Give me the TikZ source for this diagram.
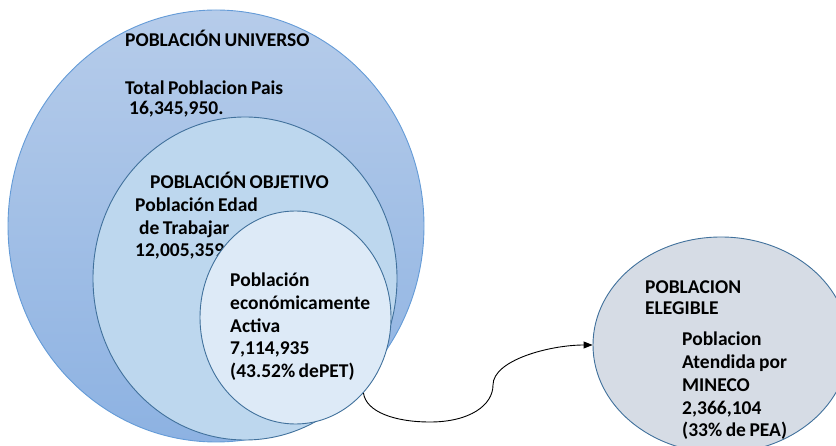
\documentclass[tikz,border=0pt]{standalone}
\usepackage{fontspec}
\setmainfont{Carlito}[BoldFont={Carlito Bold}]
\usetikzlibrary{shapes.geometric,arrows.meta}
\definecolor{outertop}{RGB}{182,204,234}
\definecolor{outerbot}{RGB}{141,178,226}
\definecolor{outerline}{RGB}{100,155,215}
\definecolor{midfill}{RGB}{189,215,238}
\definecolor{innerfill}{RGB}{221,234,247}
\definecolor{eligfill}{RGB}{214,220,229}
\definecolor{edgeline}{RGB}{65,113,156}
\newcommand\diagfont{\fontsize{19.5}{23}\selectfont\bfseries\spaceskip=0.18em\relax}
\begin{document}
\begin{tikzpicture}[x=1pt,y=-1pt,
  txt/.style={anchor=base west, inner sep=0pt, font=\diagfont},
  circ/.style={ellipse, inner sep=0pt, line width=0.9pt},
  conn/.style={line width=0.9pt, -{Triangle[length=9pt,width=7pt]}}]
\useasboundingbox (0,0) rectangle (836,446);
\clip (0,0) rectangle (836,446);
% outer
\node[circ, draw=outerline, top color=outertop, bottom color=outerbot,
      minimum width=416pt, minimum height=432pt] (univ) at (216,226) {};
\node[txt] (u1) at (125,47) {POBLACIÓN UNIVERSO};
\node[txt] (u2) at (125,95) {Total Poblacion Pais};
\node[txt] (u3) at (129,115) {16,345,950.};
% middle
\node[circ, draw=edgeline, fill=midfill,
      minimum width=304pt, minimum height=323pt] (obj) at (245,278.5) {};
\node[txt] (o1) at (150,189) {POBLACIÓN OBJETIVO};
\node[txt] (o2) at (135,211.5) {Población Edad};
\node[txt] (o3) at (139,234.5) {de Trabajar};
\node[txt] (o4) at (135,257) {12,005,359.};
% inner
\node[circ, draw=edgeline, fill=innerfill,
      minimum width=191pt, minimum height=213pt] (pea) at (295.5,317.5) {};
\node[txt] (p1) at (230,287) {Población};
\node[txt] (p2) at (230,310) {económicamente};
\node[txt] (p3) at (230,332.5) {Activa};
\node[txt] (p4) at (230,355) {7,114,935};
\node[txt] (p5) at (230,378) {(43.52\% dePET)};
% right
\node[circ, draw=edgeline, fill=eligfill,
      minimum width=256pt, minimum height=216pt] (elig) at (721,345) {};
\node[txt] (e1) at (645,294) {POBLACION};
\node[txt] (e2) at (645,315) {ELEGIBLE};
\node[txt] (e3) at (682,346) {Poblacion};
\node[txt] (e4) at (682,369) {Atendida por};
\node[txt] (e5) at (682,392) {MINECO};
\node[txt] (e6) at (682,415) {2,366,104};
\node[txt] (e7) at (682,437) {(33\% de PEA)};
% connector
\coordinate (c1) at (430,422);
\coordinate (c2) at (493,385);
\draw[conn] (pea.-48) .. controls (366,412) and (395,422) .. (c1)
  .. controls (470,422) and (493,405) .. (c2)
  .. controls (493,360) and (550,345) .. (elig.west);
\end{tikzpicture}
\end{document}
